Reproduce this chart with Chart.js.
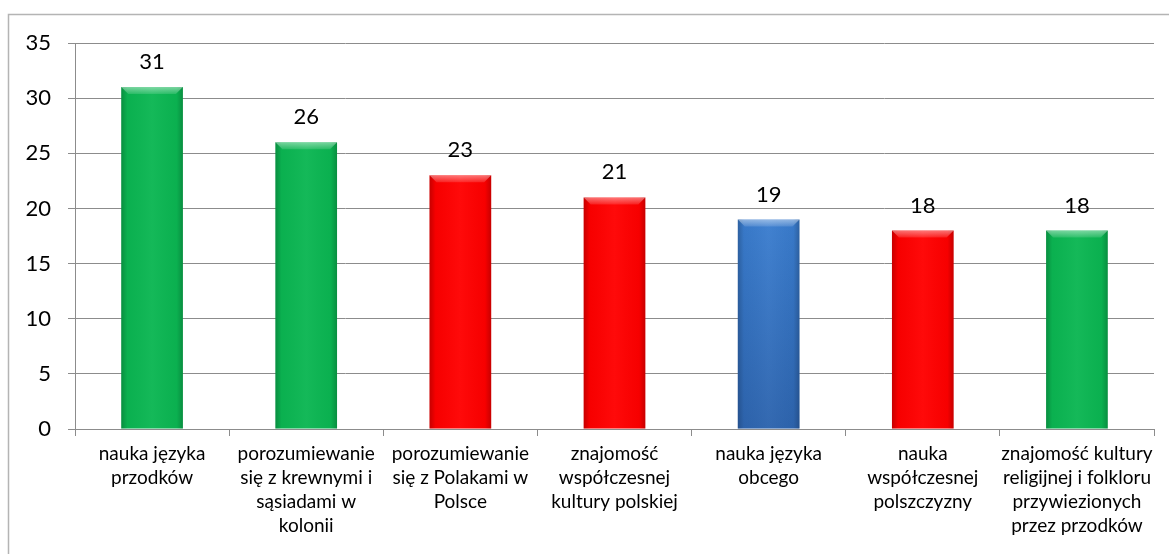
<!DOCTYPE html>
<html>
<head>
<meta charset="utf-8">
<script src="https://cdn.jsdelivr.net/npm/chart.js@4/dist/chart.umd.min.js"></script>
<style>
    html, body { margin: 0; padding: 0; background: #fff; }
    #wrap { position: relative; width: 1169px; height: 554px; }
</style>
</head>
<body>
<div id="wrap"><canvas id="chart" width="1169" height="554"></canvas></div>
<script>
'use strict';

/** Survey: what the colony schools should teach */

const categories = [
    ['nauka języka', 'przodków'],
    ['porozumiewanie', 'się z krewnymi i', 'sąsiadami w', 'kolonii'],
    ['porozumiewanie', 'się z Polakami w', 'Polsce'],
    ['znajomość', 'współczesnej', 'kultury polskiej'],
    ['nauka języka', 'obcego'],
    ['nauka', 'współczesnej', 'polszczyzny'],
    ['znajomość kultury', 'religijnej i folkloru', 'przywiezionych', 'przez przodków'],
];
const answers = [31, 26, 23, 21, 19, 18, 18];
const barColors = ['#0bb652', '#0bb652', '#ff0000', '#ff0000', '#3a7dcf', '#ff0000', '#0bb652'];
const yTicks = [0, 5, 10, 15, 20, 25, 30, 35];

const FONT = 'Lato, "Open Sans", sans-serif';
const GRID = '#8c8c8c';

// frame around the whole chart (open on the right and bottom)
const framePlugin = {
    id: 'frame',
    beforeDraw(chart) {
        const ctx = chart.ctx;
        ctx.save();
        ctx.strokeStyle = '#b4b4b4';
        ctx.lineWidth = 1.5;
        ctx.beginPath();
        ctx.moveTo(8.5, 560);
        ctx.lineTo(8.5, 14.5);
        ctx.lineTo(1169, 14.5);
        ctx.stroke();
        ctx.restore();
    },
};

// rounded look: darker sides, light bevel on top, values above bars
const barShadePlugin = {
    id: 'barShade',
    afterDatasetsDraw(chart) {
        const ctx = chart.ctx;
        const meta = chart.getDatasetMeta(0);
        meta.data.forEach((bar, i) => {
            const { x, y, base, width } = bar.getProps(['x', 'y', 'base', 'width'], true);
            const left = x - width / 2;
            const right = x + width / 2;
            ctx.save();

            const side = ctx.createLinearGradient(left, 0, right, 0);
            side.addColorStop(0, 'rgba(0,0,0,0.22)');
            side.addColorStop(0.1, 'rgba(0,0,0,0.03)');
            side.addColorStop(0.5, 'rgba(255,255,255,0.04)');
            side.addColorStop(0.9, 'rgba(0,0,0,0.03)');
            side.addColorStop(1, 'rgba(0,0,0,0.22)');
            ctx.fillStyle = side;
            ctx.fillRect(left, y, width, base - y);

            if (i === 4) {
                const down = ctx.createLinearGradient(0, y, 0, base);
                down.addColorStop(0, 'rgba(10,30,80,0)');
                down.addColorStop(1, 'rgba(10,30,80,0.25)');
                ctx.fillStyle = down;
                ctx.fillRect(left, y, width, base - y);
            }

            const bevel = 7;
            const shine = ctx.createLinearGradient(0, y, 0, y + bevel);
            shine.addColorStop(0, 'rgba(255,255,255,0.45)');
            shine.addColorStop(1, 'rgba(255,255,255,0.12)');
            ctx.fillStyle = shine;
            ctx.beginPath();
            ctx.moveTo(left, y);
            ctx.lineTo(right, y);
            ctx.lineTo(right - bevel, y + bevel);
            ctx.lineTo(left + bevel, y + bevel);
            ctx.closePath();
            ctx.fill();

            ctx.fillStyle = '#000';
            ctx.font = '22px ' + FONT;
            ctx.textAlign = 'center';
            ctx.textBaseline = 'middle';
            ctx.fillText(String(answers[i]), x, y - 25);
            ctx.restore();
        });
    },
};

new Chart(document.getElementById('chart'), {
    type: 'bar',
    data: {
        labels: categories,
        datasets: [
            {
                data: answers,
                backgroundColor: barColors,
                borderWidth: 0,
                barPercentage: 0.4,
                categoryPercentage: 1,
            },
        ],
    },
    options: {
        responsive: false,
        animation: false,
        layout: { padding: { top: 43, right: 15, bottom: 0, left: 0 } },
        plugins: {
            legend: { display: false },
            tooltip: { enabled: false },
        },
        scales: {
            x: {
                grid: {
                    offset: true,
                    drawOnChartArea: false,
                    drawTicks: true,
                    tickLength: 7,
                    color: GRID,
                },
                border: { color: GRID, width: 1 },
                ticks: {
                    color: '#000',
                    font: { family: FONT, size: 19, lineHeight: '24px' },
                    padding: 6,
                    maxRotation: 0,
                    autoSkip: false,
                },
                afterFit(scale) {
                    scale.height = 125;
                },
            },
            y: {
                min: 0,
                max: 35,
                afterBuildTicks(scale) {
                    scale.ticks = yTicks.map((v) => ({ value: v }));
                },
                grid: { color: GRID, tickLength: 7, lineWidth: 1 },
                border: { color: GRID, width: 1 },
                ticks: {
                    color: '#000',
                    font: { family: FONT, size: 22 },
                    padding: 17,
                },
                afterFit(scale) {
                    scale.width = 75;
                },
            },
        },
    },
    plugins: [framePlugin, barShadePlugin],
});
</script>
</body>
</html>
